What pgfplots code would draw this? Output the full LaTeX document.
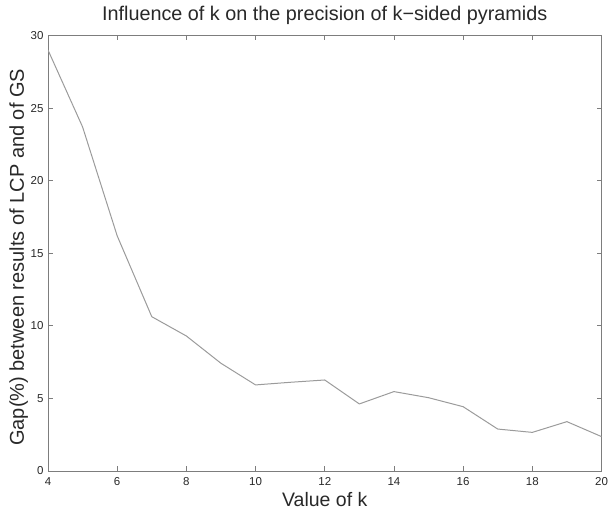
\documentclass[border=0pt]{standalone}
\usepackage{pgfplots}
\pgfplotsset{compat=1.18}
\usepackage{fontspec}
\setmainfont{Liberation Sans}
\definecolor{curve}{RGB}{155,155,155}
\definecolor{frame}{RGB}{125,125,125}
\definecolor{ink}{RGB}{40,40,40}
\begin{document}
\begin{tikzpicture}
\begin{axis}[
  name=ax,
  scale only axis,
  width=553.5pt, height=435.5pt,
  xmin=4, xmax=20, ymin=0, ymax=30,
  xtick={4,6,...,20}, ytick={0,5,...,30},
  tick align=inside,
  xtick pos=both, ytick pos=both,
  major tick length=5pt,
  axis line style={frame, line width=1pt},
  tick style={frame, line width=0.8pt},
  /pgf/number format/assume math mode=true,
  tick label style={font=\fontsize{11.5}{13}\selectfont, text=ink},
  xticklabel style={yshift=-5pt, inner sep=1pt},
  yticklabel style={xshift=-1pt},
  xlabel={Value of k},
  ylabel={Gap(\%) between results of LCP and of GS},
  label style={font=\fontsize{20}{24}\selectfont, text=ink},
  xlabel style={at={(axis description cs:0.5,0)}, anchor=base, yshift=-35pt,
    font=\fontsize{19.5}{22}\selectfont, inner sep=1pt},
  ylabel style={at={([xshift=-24pt,yshift=-4pt]axis description cs:0,0.5)}, anchor=base, rotate=0},
  title={Influence of k on the precision of k−sided pyramids},
  title style={font=\fontsize{19.8}{24}\selectfont, text=ink,
    at={(axis description cs:0.5,1)}, anchor=base, yshift=8.5pt},
]
\addplot[curve, line width=1pt, no marks] coordinates {
(4,29.0) (5,23.7) (6,16.2) (7,10.63) (8,9.3) (9,7.42) (10,5.93) (11,6.11)
(12,6.27) (13,4.62) (14,5.47) (15,5.05) (16,4.43) (17,2.89) (18,2.66)
(19,3.40) (20,2.37)
};
\end{axis}
\pgfresetboundingbox
\path ([shift={(-48pt,-38pt)}]ax.south west) rectangle ([shift={(6.5pt,35.5pt)}]ax.north east);
\end{tikzpicture}
\end{document}
